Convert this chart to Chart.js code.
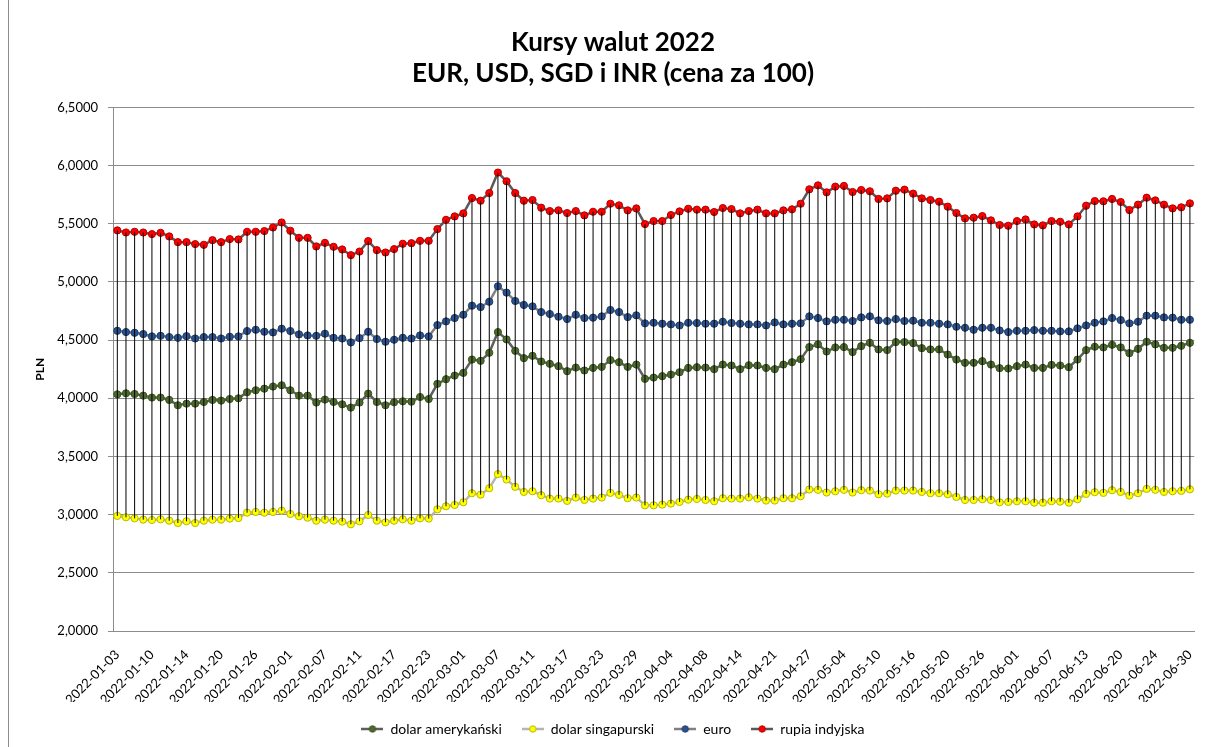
<!DOCTYPE html>
<html lang="pl">
<head>
<meta charset="utf-8">
<title>Kursy walut 2022</title>
<script src="https://cdn.jsdelivr.net/npm/chart.js@4.4.0/dist/chart.umd.min.js"></script>
<style>
  html, body { margin: 0; padding: 0; background: #fff; }
  #ramka { position: absolute; left: 8px; top: 0; width: 1220px; height: 760px; border-left: 1px solid #8c8c8c; }
  #pudelko { position: absolute; left: 9px; top: 0; width: 1200px; height: 747px; }
</style>
</head>
<body>
<div id="ramka"></div>
<div id="pudelko"><canvas id="kursy" width="1200" height="747"></canvas></div>
<script>
// dni notowań NBP, styczeń - czerwiec 2022
const dni = [
    '2022-01-03', '2022-01-04', '2022-01-05', '2022-01-07', '2022-01-10', '2022-01-11', '2022-01-12', '2022-01-13', '2022-01-14', '2022-01-17',
    '2022-01-18', '2022-01-19', '2022-01-20', '2022-01-21', '2022-01-24', '2022-01-25', '2022-01-26', '2022-01-27', '2022-01-28', '2022-01-31',
    '2022-02-01', '2022-02-02', '2022-02-03', '2022-02-04', '2022-02-07', '2022-02-08', '2022-02-09', '2022-02-10', '2022-02-11', '2022-02-14',
    '2022-02-15', '2022-02-16', '2022-02-17', '2022-02-18', '2022-02-21', '2022-02-22', '2022-02-23', '2022-02-24', '2022-02-25', '2022-02-28',
    '2022-03-01', '2022-03-02', '2022-03-03', '2022-03-04', '2022-03-07', '2022-03-08', '2022-03-09', '2022-03-10', '2022-03-11', '2022-03-14',
    '2022-03-15', '2022-03-16', '2022-03-17', '2022-03-18', '2022-03-21', '2022-03-22', '2022-03-23', '2022-03-24', '2022-03-25', '2022-03-28',
    '2022-03-29', '2022-03-30', '2022-03-31', '2022-04-01', '2022-04-04', '2022-04-05', '2022-04-06', '2022-04-07', '2022-04-08', '2022-04-11',
    '2022-04-12', '2022-04-13', '2022-04-14', '2022-04-15', '2022-04-19', '2022-04-20', '2022-04-21', '2022-04-22', '2022-04-25', '2022-04-26',
    '2022-04-27', '2022-04-28', '2022-04-29', '2022-05-02', '2022-05-04', '2022-05-05', '2022-05-06', '2022-05-09', '2022-05-10', '2022-05-11',
    '2022-05-12', '2022-05-13', '2022-05-16', '2022-05-17', '2022-05-18', '2022-05-19', '2022-05-20', '2022-05-23', '2022-05-24', '2022-05-25',
    '2022-05-26', '2022-05-27', '2022-05-30', '2022-05-31', '2022-06-01', '2022-06-02', '2022-06-03', '2022-06-06', '2022-06-07', '2022-06-08',
    '2022-06-09', '2022-06-10', '2022-06-13', '2022-06-14', '2022-06-15', '2022-06-17', '2022-06-20', '2022-06-21', '2022-06-22', '2022-06-23',
    '2022-06-24', '2022-06-27', '2022-06-28', '2022-06-29', '2022-06-30'
];

const dolarAmerykanski = [
    4.034, 4.043, 4.037, 4.023, 4.006, 4.006, 3.986, 3.940, 3.954, 3.954,
    3.968, 3.986, 3.980, 3.994, 4.000, 4.052, 4.069, 4.083, 4.101, 4.112,
    4.069, 4.023, 4.023, 3.963, 3.989, 3.968, 3.948, 3.920, 3.963, 4.040,
    3.968, 3.940, 3.966, 3.974, 3.971, 4.011, 3.994, 4.124, 4.164, 4.195,
    4.218, 4.333, 4.322, 4.391, 4.569, 4.506, 4.408, 4.345, 4.365, 4.316,
    4.296, 4.276, 4.233, 4.264, 4.239, 4.261, 4.270, 4.328, 4.310, 4.270,
    4.290, 4.167, 4.178, 4.190, 4.204, 4.224, 4.261, 4.267, 4.264, 4.250,
    4.290, 4.282, 4.250, 4.284, 4.282, 4.261, 4.250, 4.290, 4.310, 4.336,
    4.440, 4.463, 4.402, 4.437, 4.440, 4.397, 4.448, 4.477, 4.420, 4.414,
    4.483, 4.483, 4.474, 4.431, 4.420, 4.420, 4.376, 4.333, 4.305, 4.305,
    4.319, 4.290, 4.259, 4.256, 4.276, 4.290, 4.261, 4.261, 4.287, 4.282,
    4.267, 4.333, 4.414, 4.443, 4.437, 4.460, 4.437, 4.388, 4.425, 4.486,
    4.463, 4.434, 4.434, 4.451, 4.477
];

const dolarSingapurski = [
    2.989, 2.977, 2.968, 2.957, 2.954, 2.960, 2.948, 2.928, 2.943, 2.928,
    2.948, 2.957, 2.957, 2.966, 2.971, 3.017, 3.023, 3.017, 3.023, 3.034,
    3.006, 2.986, 2.974, 2.948, 2.957, 2.948, 2.940, 2.917, 2.943, 2.997,
    2.948, 2.934, 2.948, 2.960, 2.948, 2.968, 2.966, 3.046, 3.072, 3.083,
    3.106, 3.184, 3.172, 3.227, 3.348, 3.302, 3.239, 3.195, 3.201, 3.167,
    3.138, 3.138, 3.118, 3.147, 3.126, 3.138, 3.147, 3.187, 3.170, 3.141,
    3.147, 3.080, 3.080, 3.086, 3.095, 3.109, 3.129, 3.135, 3.126, 3.115,
    3.141, 3.138, 3.138, 3.149, 3.138, 3.121, 3.121, 3.141, 3.141, 3.158,
    3.216, 3.213, 3.190, 3.201, 3.213, 3.190, 3.210, 3.207, 3.175, 3.181,
    3.207, 3.207, 3.207, 3.195, 3.184, 3.184, 3.175, 3.152, 3.126, 3.126,
    3.132, 3.126, 3.106, 3.109, 3.115, 3.115, 3.103, 3.103, 3.115, 3.112,
    3.103, 3.132, 3.178, 3.193, 3.187, 3.210, 3.195, 3.164, 3.184, 3.221,
    3.213, 3.195, 3.201, 3.204, 3.218
];

const euro = [
    4.580, 4.569, 4.563, 4.552, 4.532, 4.537, 4.526, 4.520, 4.534, 4.514,
    4.526, 4.526, 4.514, 4.529, 4.532, 4.578, 4.589, 4.572, 4.566, 4.598,
    4.578, 4.549, 4.540, 4.537, 4.555, 4.520, 4.514, 4.480, 4.517, 4.572,
    4.509, 4.486, 4.503, 4.520, 4.514, 4.540, 4.532, 4.629, 4.661, 4.690,
    4.718, 4.796, 4.784, 4.830, 4.963, 4.908, 4.836, 4.802, 4.790, 4.741,
    4.724, 4.701, 4.681, 4.718, 4.690, 4.693, 4.704, 4.759, 4.741, 4.698,
    4.713, 4.644, 4.649, 4.641, 4.635, 4.626, 4.649, 4.647, 4.641, 4.641,
    4.658, 4.647, 4.641, 4.635, 4.635, 4.626, 4.652, 4.635, 4.641, 4.644,
    4.704, 4.690, 4.661, 4.675, 4.675, 4.664, 4.695, 4.704, 4.670, 4.664,
    4.681, 4.664, 4.667, 4.649, 4.649, 4.641, 4.635, 4.615, 4.606, 4.589,
    4.606, 4.606, 4.583, 4.569, 4.580, 4.580, 4.586, 4.580, 4.580, 4.575,
    4.575, 4.601, 4.626, 4.649, 4.661, 4.690, 4.672, 4.644, 4.658, 4.710,
    4.710, 4.695, 4.693, 4.675, 4.675
];

const rupiaIndyjska = [
    5.443, 5.425, 5.431, 5.425, 5.411, 5.422, 5.391, 5.342, 5.342, 5.325,
    5.319, 5.359, 5.342, 5.368, 5.365, 5.431, 5.431, 5.437, 5.468, 5.511,
    5.440, 5.379, 5.379, 5.305, 5.336, 5.302, 5.279, 5.230, 5.261, 5.351,
    5.273, 5.253, 5.282, 5.328, 5.333, 5.353, 5.353, 5.454, 5.534, 5.563,
    5.589, 5.721, 5.698, 5.764, 5.940, 5.865, 5.764, 5.698, 5.704, 5.638,
    5.609, 5.615, 5.592, 5.609, 5.572, 5.603, 5.603, 5.672, 5.658, 5.615,
    5.632, 5.497, 5.523, 5.523, 5.575, 5.606, 5.629, 5.621, 5.621, 5.601,
    5.635, 5.626, 5.589, 5.609, 5.621, 5.589, 5.589, 5.615, 5.624, 5.672,
    5.796, 5.830, 5.770, 5.819, 5.825, 5.773, 5.790, 5.779, 5.713, 5.718,
    5.784, 5.793, 5.759, 5.718, 5.704, 5.690, 5.647, 5.592, 5.546, 5.552,
    5.566, 5.529, 5.489, 5.483, 5.523, 5.537, 5.494, 5.486, 5.523, 5.517,
    5.494, 5.563, 5.655, 5.695, 5.693, 5.713, 5.687, 5.618, 5.664, 5.724,
    5.701, 5.664, 5.632, 5.641, 5.675
];

const czcionka = 'Lato, "Open Sans", sans-serif';

// ikonka do legendy: kreska z kropka w srodku
function ikonaLegendy(kolorLinii, wypelnienie, obrys) {
    const c = document.createElement('canvas');
    c.width = 22;
    c.height = 10;
    const g = c.getContext('2d');
    g.strokeStyle = kolorLinii;
    g.lineWidth = 2.5;
    g.beginPath();
    g.moveTo(0, 5);
    g.lineTo(22, 5);
    g.stroke();
    g.fillStyle = wypelnienie;
    g.strokeStyle = obrys;
    g.lineWidth = 1;
    g.beginPath();
    g.arc(11, 5, 3.2, 0, Math.PI * 2);
    g.fill();
    g.stroke();
    return c;
}

function seria(label, data, linia, punkt, obrys) {
    return {
        label,
        data,
        borderColor: linia,
        borderWidth: 2.5,
        backgroundColor: punkt,
        pointBackgroundColor: punkt,
        pointBorderColor: obrys,
        pointBorderWidth: 1,
        pointRadius: 3.6,
        tension: 0,
        ikona: ikonaLegendy(linia, punkt, obrys)
    };
}

// linie max-min przy kazdym dniu (jak w Excelu)
const liniePionowe = {
    id: 'liniePionowe',
    afterDatasetsDraw(chart) {
        const { ctx, scales: { x, y } } = chart;
        const zbiory = chart.data.datasets;
        ctx.save();
        ctx.strokeStyle = '#000';
        ctx.lineWidth = 1;
        chart.data.labels.forEach((_, i) => {
            const wart = zbiory.map(d => d.data[i]);
            const px = x.getPixelForValue(i);
            ctx.beginPath();
            ctx.moveTo(px, y.getPixelForValue(Math.max(...wart)));
            ctx.lineTo(px, y.getPixelForValue(Math.min(...wart)));
            ctx.stroke();
        });
        ctx.restore();
    }
};

new Chart(document.getElementById('kursy'), {
    type: 'line',
    data: {
        labels: dni,
        datasets: [
            seria('dolar amerykański', dolarAmerykanski, '#5e5e5e', '#4e6b2e', '#3b5222'),
            seria('dolar singapurski', dolarSingapurski, '#b5b5b5', '#ffff00', '#b8b800'),
            seria('euro', euro, '#808080', '#2c5391', '#1f3b66'),
            seria('rupia indyjska', rupiaIndyjska, '#595959', '#ff0000', '#b00000')
        ]
    },
    options: {
        responsive: false,
        animation: false,
        layout: { padding: { left: 20, right: 12, top: 0, bottom: 1 } },
        plugins: {
            title: {
                display: true,
                text: ['Kursy walut 2022', 'EUR, USD, SGD i INR (cena za 100)'],
                color: '#000',
                font: { family: czcionka, size: 26, weight: 'bold', lineHeight: 1.2 },
                padding: { top: 27, bottom: 18 }
            },
            legend: {
                position: 'bottom',
                labels: {
                    usePointStyle: true,
                    pointStyleWidth: 22,
                    padding: 20,
                    color: '#000',
                    font: { family: czcionka, size: 14 },
                    generateLabels: chart => chart.data.datasets.map((ds, i) => ({
                        text: ds.label,
                        pointStyle: ds.ikona,
                        fillStyle: ds.backgroundColor,
                        strokeStyle: ds.borderColor,
                        lineWidth: 0,
                        fontColor: '#000',
                        hidden: false,
                        datasetIndex: i
                    }))
                }
            },
            tooltip: { enabled: false }
        },
        scales: {
            x: {
                offset: true,
                grid: { display: false },
                border: { color: '#8c8c8c' },
                ticks: {
                    autoSkip: false,
                    minRotation: 45,
                    maxRotation: 45,
                    padding: 8,
                    color: '#000',
                    font: { family: czcionka, size: 13 },
                    callback: (v, i) => (i % 4 === 0 ? dni[i] : '')
                },
                afterFit: s => { s.height = 71; }
            },
            y: {
                min: 2,
                max: 6.5,
                ticks: {
                    stepSize: 0.5,
                    padding: 10,
                    color: '#000',
                    font: { family: czcionka, size: 13 },
                    callback: v => v.toFixed(4).replace('.', ',')
                },
                grid: { color: '#8c8c8c', tickLength: 5 },
                border: { color: '#8c8c8c' },
                title: {
                    display: true,
                    text: 'PLN',
                    color: '#000',
                    font: { family: czcionka, size: 12, weight: 'bold' }
                },
                afterFit: s => { s.width = 84; }
            }
        }
    },
    plugins: [liniePionowe]
});
</script>
</body>
</html>
